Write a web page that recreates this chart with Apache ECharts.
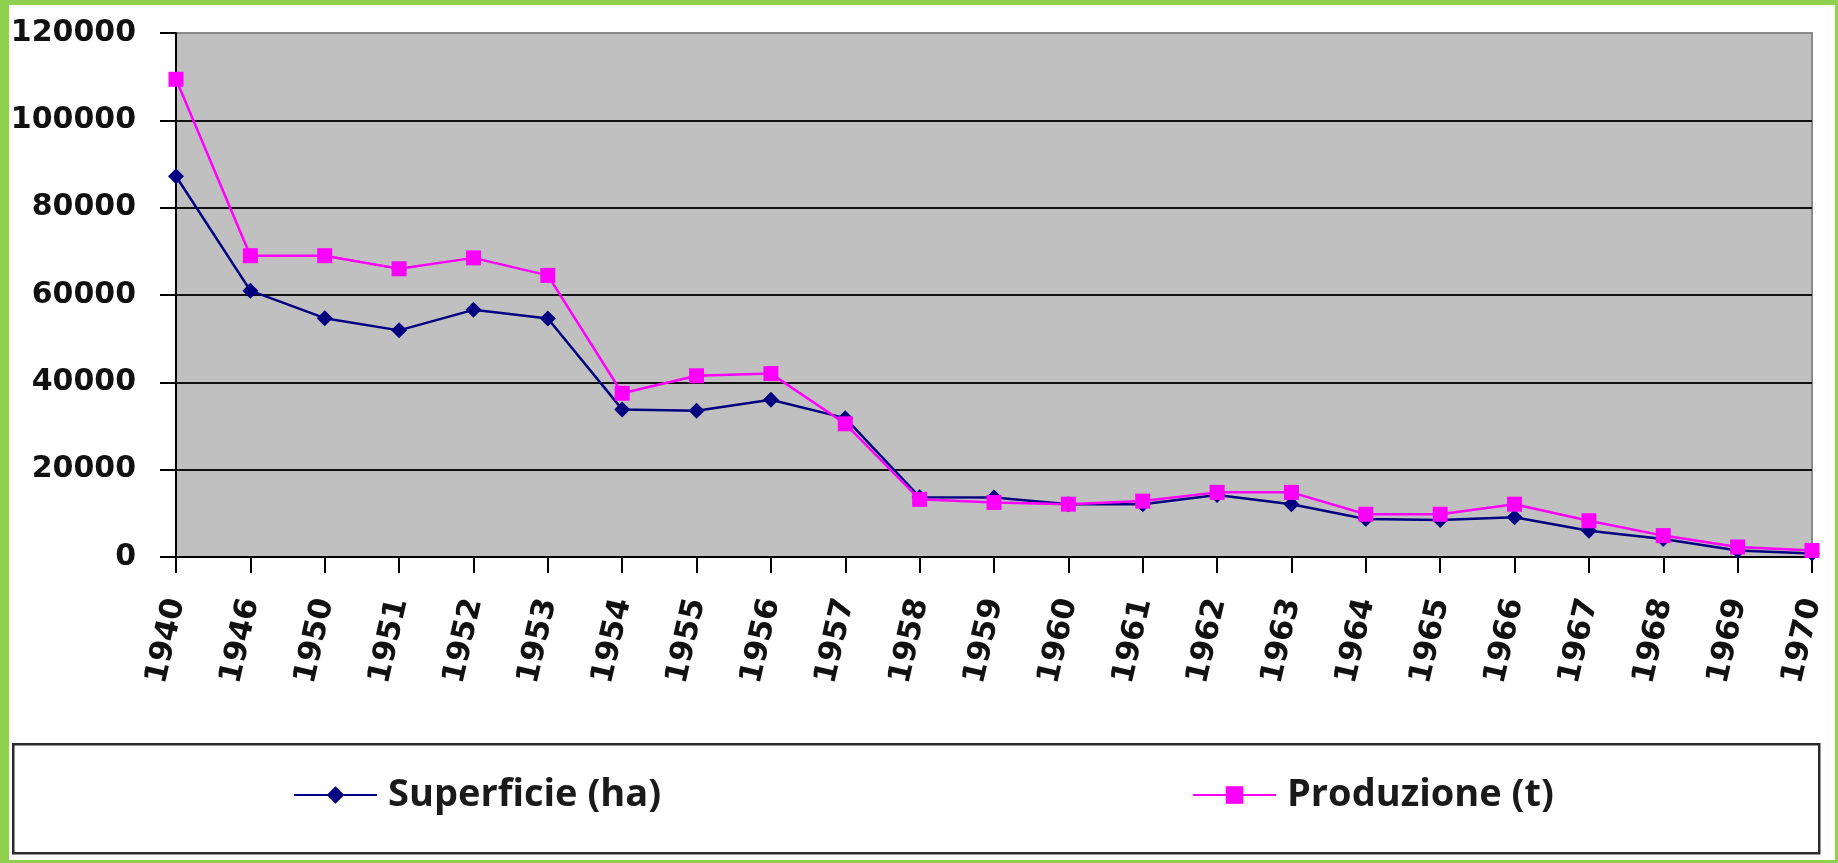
<!DOCTYPE html>
<html>
<head>
<meta charset="utf-8">
<title>Superficie e produzione</title>
<script src="https://cdn.jsdelivr.net/npm/echarts@6/dist/echarts.min.js"></script>
<style>
  html, body { margin: 0; padding: 0; background: #fff; }
  #chart { position: absolute; left: 0; top: 0; width: 1838px; height: 863px; }
  #frame {
    position: absolute; left: 0; top: 0; width: 1838px; height: 863px;
    box-sizing: border-box; pointer-events: none;
    border-style: solid; border-color: #8fd14f;
    border-width: 5px 3px 3px 9px;
  }
</style>
</head>
<body>
<div id="chart"></div>
<div id="frame"></div>
<script>
// anni sull'asse x
const years = ['1940', '1946', '1950', '1951', '1952', '1953', '1954', '1955', '1956', '1957', '1958',
  '1959', '1960', '1961', '1962', '1963', '1964', '1965', '1966', '1967', '1968', '1969', '1970']

// Superficie (ha)
const superficie = [87200, 61000, 54700, 51900, 56600, 54600, 33800, 33500, 36000, 31800, 13700,
  13600, 12100, 12100, 14200, 12100, 8700, 8500, 9100, 6000, 4100, 1500, 800]

// Produzione (t)
const produzione = [109400, 69000, 69000, 66000, 68500, 64500, 37500, 41500, 42000, 30500, 13200,
  12500, 12100, 12800, 14800, 14800, 9800, 9800, 12100, 8300, 4900, 2300, 1500]

const yMax = 120000
const yStep = 20000

const chart = echarts.init(document.getElementById('chart'))

const legendText = {
  fontFamily: 'Open Sans',
  fontWeight: 'bold',
  fontSize: 38,
  color: '#1a1a1a',
  padding: [0, 0, 0, 6]
}

chart.setOption({
  animation: false,
  backgroundColor: '#fff',
  grid: {
    left: 176,
    right: 26,
    top: 33,
    bottom: 306,
    show: true,
    backgroundColor: '#c0c0c0',
    borderColor: '#8a8a8a',
    borderWidth: 2
  },
  // cornice della legenda
  graphic: [{
    type: 'rect',
    left: 12,
    top: 743,
    z: -1,
    shape: { width: 1806, height: 109 },
    style: { fill: '#fff', stroke: '#2a2a2a', lineWidth: 2.5 }
  }],
  legend: [{
    data: ['Superficie (ha)'],
    left: 293,
    top: 776,
    padding: 0,
    itemWidth: 83,
    itemHeight: 22,
    textStyle: legendText
  }, {
    data: ['Produzione (t)'],
    left: 1192,
    top: 776,
    padding: 0,
    itemWidth: 83,
    itemHeight: 22,
    textStyle: legendText
  }],
  xAxis: {
    type: 'category',
    data: years,
    boundaryGap: false,
    axisLine: { lineStyle: { color: '#000', width: 2 } },
    axisTick: { interval: 0, length: 16, lineStyle: { color: '#000', width: 2 } },
    axisLabel: {
      interval: 0,
      rotate: 77,
      margin: 42,
      fontFamily: 'DejaVu Sans',
      fontWeight: 'bold',
      fontSize: 31,
      color: '#111'
    },
    splitLine: { show: false }
  },
  yAxis: {
    type: 'value',
    min: 0,
    max: yMax,
    interval: yStep,
    axisLine: { show: true, lineStyle: { color: '#000', width: 2 } },
    axisTick: { show: true, length: 16, lineStyle: { color: '#000', width: 2 } },
    axisLabel: {
      margin: 40,
      fontFamily: 'DejaVu Sans',
      fontWeight: 'bold',
      fontSize: 30,
      color: '#111',
      formatter: function(v) { return String(v) }
    },
    splitLine: {
      show: true,
      lineStyle: {
        color: ['#111', '#111', '#111', '#111', '#111', '#111', '#8a8a8a'],
        width: 2
      }
    }
  },
  series: [{
    name: 'Superficie (ha)',
    type: 'line',
    data: superficie,
    symbol: 'diamond',
    symbolSize: 16,
    itemStyle: { color: '#000080' },
    lineStyle: { color: '#000080', width: 2.5 }
  }, {
    name: 'Produzione (t)',
    type: 'line',
    data: produzione,
    symbol: 'rect',
    symbolSize: 15,
    itemStyle: { color: '#ff00ff' },
    lineStyle: { color: '#ff00ff', width: 2.5 }
  }]
})
</script>
</body>
</html>
